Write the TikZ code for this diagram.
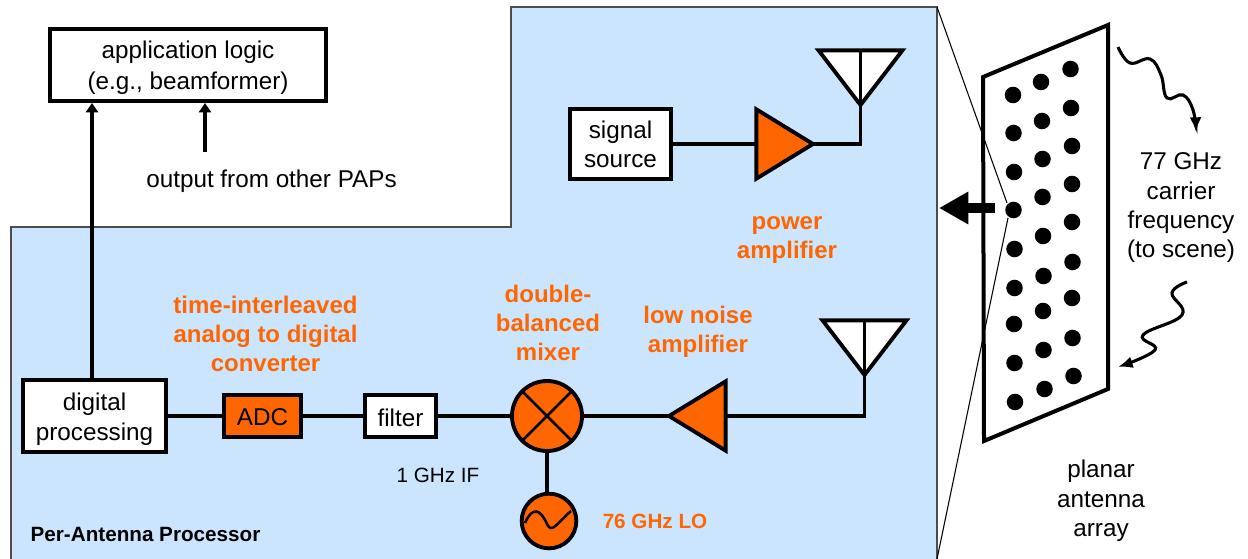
\documentclass[tikz,border=0pt]{standalone}
\usepackage{fontspec}
\setmainfont{Liberation Sans}
\usetikzlibrary{shapes.geometric,arrows.meta}
\definecolor{panelblue}{HTML}{CCE5FF}
\definecolor{hotorange}{HTML}{FF6600}
\tikzset{
	lbl/.style={align=center,inner sep=0pt,font=\fontsize{18.2}{22}\selectfont},
	smalllbl/.style={inner sep=0pt,font=\fontsize{15.5}{18}\selectfont},
	hot/.style={align=center,inner sep=0pt,text=hotorange,font=\bfseries\fontsize{18}{22}\selectfont},
	blockbox/.style={draw,line width=2.9pt,fill=white,align=center,inner sep=0pt,font=\fontsize{18.2}{22}\selectfont},
	wire/.style={line width=2.9pt},
	amp/.style={draw,line width=2.9pt,fill=hotorange,isosceles triangle,isosceles triangle stretches,inner sep=0pt,outer sep=0pt,minimum width=52pt,minimum height=42.5pt,anchor=apex},
	aerial/.style={draw,line width=2.9pt,fill=white,isosceles triangle,isosceles triangle stretches,shape border rotate=270,inner sep=0pt,outer sep=0pt,minimum width=63pt,minimum height=41pt,anchor=apex},
	wave/.style={line width=2.3pt,-{Latex[length=11pt,width=9pt]}}
}
\begin{document}
\begin{tikzpicture}[x=.75pt,y=-.75pt]
						\useasboundingbox (0,0) rectangle (1248,559);
						%panel behind the blocks
						\fill[panelblue] (11,559) -- (11,227) -- (511,227) -- (511,7) -- (937,7) -- (937,559);
						\draw[black!70,line width=.9pt] (11,559) -- (11,227) -- (511,227) -- (511,7) -- (937,7) -- (937,559);
						%planar array
						\draw[line width=3pt,miter limit=10] (983,77) -- (1108,25) -- (1108,389) -- (984,441) -- cycle;
						\fill (1013,95)  circle[radius=6.2pt];
						\fill (1013.5,133) circle[radius=6.2pt];
						\fill (1014,172) circle[radius=6.2pt];
						\fill (1013.5,210) circle[radius=6.2pt];
						\fill (1014.5,249) circle[radius=6.2pt];
						\fill (1014.5,288) circle[radius=6.2pt];
						\fill (1014,324) circle[radius=6.2pt];
						\fill (1014.5,363) circle[radius=6.2pt];
						\fill (1015,402) circle[radius=6.2pt];
						\fill (1041,82)  circle[radius=6.2pt];
						\fill (1042,121) circle[radius=6.2pt];
						\fill (1042.5,159) circle[radius=6.2pt];
						\fill (1042.5,197) circle[radius=6.2pt];
						\fill (1043,236) circle[radius=6.2pt];
						\fill (1043.5,276) circle[radius=6.2pt];
						\fill (1043,311) circle[radius=6.2pt];
						\fill (1043.5,350) circle[radius=6.2pt];
						\fill (1044.5,389) circle[radius=6.2pt];
						\fill (1070.5,69) circle[radius=6.2pt];
						\fill (1071,108) circle[radius=6.2pt];
						\fill (1072,146) circle[radius=6.2pt];
						\fill (1072,184) circle[radius=6.2pt];
						\fill (1072,222) circle[radius=6.2pt];
						\fill (1072.5,262) circle[radius=6.2pt];
						\fill (1072,298) circle[radius=6.2pt];
						\fill (1072.5,338) circle[radius=6.2pt];
						\fill (1073.5,376) circle[radius=6.2pt];
						%callout from one element to the panel
						\draw[line width=.8pt] (937,7) -- (1007,203);
						\draw[line width=.8pt] (1008,218) -- (937,559);
						\coordinate (elemout) at (995,208);
						\coordinate (panelin) at (939,208);
						\draw[line width=8pt,-{Triangle[length=22pt,width=23pt]}] (elemout) -- (panelin);
						%waves
						\draw[wave] plot[smooth,tension=.7] coordinates {(1118,47) (1130,63) (1150,59) (1161,75) (1167,98) (1183,95) (1193,110) (1196,132)};
						\draw[wave] plot[smooth,tension=.7] coordinates {(1187,282) (1172,293) (1182,315) (1143,335) (1155,350) (1118,367)};
						%blocks
						\node[blockbox,minimum width=207pt,minimum height=54pt] (applogic) at (188,65) {\rule{0pt}{17.5pt}application logic\\[1pt](e.g., beamformer)};
						\node[blockbox,minimum width=107.5pt,minimum height=53.5pt] (digital) at (94.5,416) {\rule{0pt}{18pt}digital\\processing};
						\node[blockbox,fill=hotorange,minimum width=58pt,minimum height=31pt] (adc) at (262.5,416) {\rule{0pt}{14.5pt}ADC};
						\node[blockbox,minimum width=53.5pt,minimum height=31.5pt] (filter) at (400.5,416) {\rule{0pt}{16pt}filter};
						\node[blockbox,minimum width=76pt,minimum height=53pt] (source) at (620.5,144) {signal\\source};
						\node[amp] (poweramp) at (813,144) {};
						\node[amp,shape border rotate=180] (lna) at (669,416) {};
						\node[aerial] (txant) at (860.5,105) {};
						\node[aerial] (rxant) at (864.5,375) {};
						\node[draw,circle,line width=2.9pt,fill=hotorange,minimum size=52.5pt,inner sep=0pt] (mixer) at (547,416) {};
						\node[draw,circle,line width=2.9pt,fill=hotorange,minimum size=41pt,inner sep=0pt] (osc) at (549,521) {};
						\draw[line width=2pt] (mixer.45) -- (mixer.225);
						\draw[line width=2pt] (mixer.135) -- (mixer.315);
						\draw[line width=1.9pt] (525,523) .. controls (532,507) and (540,508) .. (547,524) .. controls (552,534) and (556,524) .. (571,511);
						%wiring
						\coordinate (apphit) at (92,103);
						\coordinate (otherhit) at (205,103);
						\coordinate (otherfrom) at (205,152);
						\draw[wire,-{Triangle[length=7pt,width=9pt]}] (digital.north -| apphit) -- (apphit);
						\draw[wire,-{Triangle[length=7pt,width=9pt]}] (otherfrom) -- (otherhit);
						\draw[wire] (digital) -- (adc);
						\draw[wire] (adc) -- (filter);
						\draw[wire] (filter) -- (mixer);
						\draw[wire] (mixer) -- (lna.apex);
						\draw[wire] (mixer.south) -- (osc.north -| mixer.south);
						\draw[wire] (lna.lower side) -| (rxant.apex);
						\draw[wire] (rxant.lower side) -- (rxant.apex);
						\draw[wire] (source) -- (poweramp.lower side);
						\draw[wire] (poweramp.apex) -| (txant.apex);
						\draw[wire] (txant.lower side) -- (txant.apex);
						%labels
						\node[lbl] (otherpaps) at (271.5,181) {output from other PAPs};
						\node[lbl] (carrier) at (1181,208) {77 GHz\\carrier\\frequency\\(to scene)};
						\node[lbl] (planar) at (1101,501) {planar\\antenna\\array};
						\node[hot] (adclabel) at (265.5,334) {time-interleaved\\analog to digital\\converter};
						\node[hot] (mixlabel) at (548,323) {double-\\balanced\\mixer};
						\node[hot] (lnalabel) at (698,332) {low noise\\amplifier};
						\node[hot] (palabel) at (787,240) {power\\amplifier};
						\node[smalllbl] (iflabel) at (438,475) {1 GHz IF};
						\node[smalllbl,text=hotorange,font=\bfseries\fontsize{15.5}{18}\selectfont] (lolabel) at (655,521) {76 GHz LO};
						\node[smalllbl,font=\bfseries\fontsize{15.5}{18}\selectfont] (paplabel) at (145.5,534) {Per-Antenna Processor};
\end{tikzpicture}
\end{document}
